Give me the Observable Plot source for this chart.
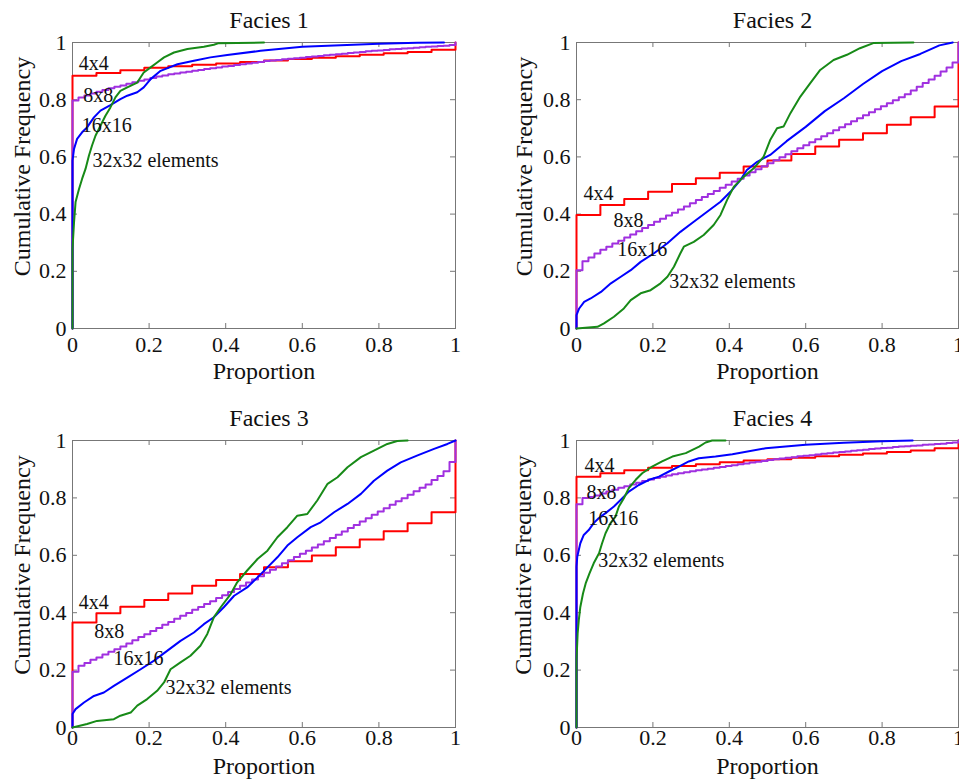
<!DOCTYPE html>
<html><head><meta charset="utf-8">
<script src="https://cdn.jsdelivr.net/npm/d3@7"></script>
<script src="https://cdn.jsdelivr.net/npm/@observablehq/plot@0.6"></script>
<style>
html,body{margin:0;padding:0;background:#fff;overflow:hidden;}
#fig{position:relative;width:959px;height:780px;overflow:hidden;}
.pan{position:absolute;width:480px;height:390px;}
.pan svg{max-width:none !important;overflow:visible;}
.pan svg text{font-family:"Liberation Serif","Times New Roman",serif !important;}
</style></head><body><div id="fig"></div>
<script>
// ---- data ----
const titles = ["Facies 1", "Facies 2", "Facies 3", "Facies 4"];
const sizeLabels = ["4x4", "8x8", "16x16", "32x32 elements"];
const tickVals = [0, 0.2, 0.4, 0.6, 0.8, 1];

// 4x4 elements: CDF at proportion k/16, k = 0..16
const red1 = [0.884,0.893,0.903,0.912,0.917,0.922,0.927,0.932,0.937,0.942,0.947,0.952,0.957,0.962,0.967,0.975,1];
const red2 = [0.397,0.432,0.453,0.478,0.505,0.525,0.545,0.566,0.587,0.610,0.636,0.660,0.683,0.712,0.739,0.776,1];
const red3 = [0.366,0.398,0.421,0.444,0.467,0.494,0.514,0.535,0.558,0.579,0.599,0.628,0.655,0.684,0.712,0.750,1];
const red4 = [0.874,0.886,0.896,0.905,0.911,0.917,0.924,0.930,0.935,0.940,0.945,0.950,0.955,0.960,0.965,0.973,1];

// 8x8 elements: CDF at proportion i/64, i = 0..64
const purple1 = [0.797,0.808,0.815,0.822,0.828,0.834,0.840,0.845,0.850,0.856,
 0.861,0.866,0.871,0.876,0.881,0.885,0.889,0.892,0.895,0.898,
 0.901,0.904,0.907,0.910,0.913,0.916,0.918,0.921,0.924,0.927,
 0.929,0.932,0.935,0.937,0.939,0.941,0.943,0.945,0.947,0.949,
 0.951,0.953,0.955,0.957,0.959,0.961,0.963,0.965,0.967,0.969,
 0.971,0.972,0.974,0.976,0.977,0.979,0.980,0.982,0.983,0.985,
 0.986,0.988,0.989,0.991,1];
const purple2 = [0.204,0.235,0.248,0.262,0.275,0.286,0.297,0.307,0.318,0.329,
 0.340,0.351,0.362,0.373,0.384,0.395,0.405,0.416,0.427,0.438,
 0.449,0.460,0.470,0.481,0.492,0.503,0.514,0.524,0.535,0.546,
 0.557,0.567,0.578,0.588,0.599,0.609,0.620,0.630,0.641,0.651,
 0.662,0.672,0.683,0.693,0.704,0.714,0.725,0.735,0.746,0.756,
 0.767,0.777,0.788,0.798,0.809,0.819,0.832,0.845,0.858,0.871,
 0.884,0.899,0.913,0.930,1];
const purple3 = [0.194,0.215,0.225,0.236,0.244,0.254,0.264,0.273,0.282,0.293,
 0.304,0.315,0.325,0.336,0.347,0.358,0.368,0.379,0.389,0.399,
 0.410,0.420,0.430,0.440,0.451,0.461,0.472,0.483,0.494,0.505,
 0.516,0.527,0.539,0.550,0.561,0.572,0.583,0.594,0.605,0.616,
 0.627,0.638,0.649,0.660,0.672,0.683,0.695,0.706,0.718,0.729,
 0.741,0.753,0.764,0.776,0.788,0.799,0.811,0.823,0.835,0.847,
 0.862,0.876,0.893,0.925,1];
const purple4 = [0.778,0.800,0.803,0.808,0.815,0.822,0.828,0.835,0.841,0.847,
 0.853,0.859,0.864,0.869,0.874,0.878,0.882,0.886,0.889,0.893,
 0.896,0.899,0.902,0.905,0.908,0.911,0.914,0.917,0.920,0.923,
 0.926,0.929,0.932,0.935,0.937,0.940,0.942,0.945,0.947,0.949,
 0.951,0.954,0.956,0.958,0.960,0.962,0.964,0.966,0.968,0.970,
 0.972,0.974,0.975,0.977,0.979,0.980,0.982,0.983,0.985,0.986,
 0.988,0.989,0.991,0.993,1];

// 16x16 elements: [proportion, CDF]
const blue1 = [[0,0.587],[0.004,0.628],[0.012,0.663],[0.025,0.686],[0.038,0.703],[0.056,0.738],[0.073,0.762],[0.099,0.781],[0.125,0.802],[0.143,0.814],[0.169,0.826],[0.186,0.843],[0.204,0.872],[0.23,0.901],[0.274,0.924],[0.317,0.936],[0.36,0.948],[0.404,0.956],[0.491,0.971],[0.6,0.985],[0.7,0.99],[0.8,0.996],[0.9,0.999],[0.97,1]];
const blue2 = [[0,0.047],[0.007,0.07],[0.02,0.093],[0.037,0.105],[0.064,0.128],[0.09,0.158],[0.116,0.181],[0.142,0.204],[0.168,0.233],[0.203,0.263],[0.238,0.298],[0.272,0.338],[0.307,0.373],[0.342,0.408],[0.377,0.443],[0.403,0.478],[0.429,0.519],[0.446,0.554],[0.473,0.583],[0.507,0.607],[0.55,0.655],[0.6,0.705],[0.65,0.76],[0.7,0.805],[0.75,0.855],[0.8,0.9],[0.85,0.935],[0.9,0.96],[0.95,0.99],[0.985,1]];
const blue3 = [[0,0.047],[0.008,0.064],[0.03,0.087],[0.056,0.11],[0.082,0.122],[0.108,0.145],[0.143,0.174],[0.178,0.203],[0.213,0.233],[0.247,0.267],[0.282,0.302],[0.317,0.331],[0.343,0.36],[0.369,0.384],[0.395,0.419],[0.422,0.459],[0.456,0.488],[0.483,0.523],[0.509,0.558],[0.535,0.593],[0.561,0.634],[0.587,0.663],[0.622,0.698],[0.648,0.715],[0.683,0.75],[0.718,0.779],[0.753,0.814],[0.787,0.86],[0.822,0.895],[0.857,0.924],[0.901,0.948],[0.944,0.971],[0.979,0.988],[1,1]];
const blue4 = [[0,0.56],[0.002,0.595],[0.01,0.642],[0.019,0.671],[0.032,0.688],[0.045,0.712],[0.058,0.729],[0.076,0.747],[0.098,0.77],[0.12,0.799],[0.137,0.822],[0.163,0.845],[0.19,0.863],[0.216,0.874],[0.242,0.892],[0.268,0.909],[0.294,0.927],[0.32,0.938],[0.364,0.944],[0.408,0.952],[0.495,0.973],[0.6,0.985],[0.7,0.992],[0.8,0.997],[0.88,1]];

// 32x32 elements: [proportion, CDF]
const green1 = [[0,0.279],[0.004,0.372],[0.008,0.442],[0.017,0.488],[0.025,0.523],[0.034,0.558],[0.043,0.605],[0.051,0.64],[0.06,0.674],[0.073,0.709],[0.086,0.744],[0.099,0.773],[0.112,0.808],[0.125,0.831],[0.143,0.843],[0.169,0.86],[0.186,0.895],[0.204,0.913],[0.221,0.93],[0.239,0.948],[0.265,0.965],[0.3,0.977],[0.343,0.985],[0.369,0.992],[0.38,0.997],[0.5,1]];
const green2 = [[0,0],[0.055,0.006],[0.072,0.018],[0.098,0.041],[0.124,0.07],[0.142,0.099],[0.168,0.123],[0.194,0.134],[0.22,0.158],[0.238,0.181],[0.255,0.216],[0.272,0.263],[0.281,0.286],[0.307,0.303],[0.333,0.327],[0.359,0.362],[0.377,0.397],[0.394,0.449],[0.412,0.496],[0.438,0.531],[0.464,0.56],[0.49,0.601],[0.507,0.659],[0.525,0.7],[0.542,0.706],[0.56,0.753],[0.586,0.811],[0.612,0.858],[0.638,0.904],[0.673,0.939],[0.708,0.957],[0.742,0.98],[0.777,0.998],[0.882,1]];
const green3 = [[0,0],[0.038,0.012],[0.064,0.023],[0.108,0.029],[0.125,0.041],[0.152,0.052],[0.169,0.076],[0.195,0.099],[0.221,0.128],[0.239,0.157],[0.256,0.203],[0.282,0.227],[0.308,0.25],[0.334,0.285],[0.352,0.326],[0.369,0.384],[0.387,0.419],[0.413,0.465],[0.43,0.506],[0.456,0.547],[0.483,0.587],[0.509,0.616],[0.535,0.663],[0.561,0.698],[0.587,0.738],[0.613,0.744],[0.639,0.791],[0.666,0.849],[0.692,0.872],[0.718,0.907],[0.753,0.942],[0.787,0.965],[0.822,0.988],[0.848,0.998],[0.875,1]];
const green4 = [[0,0.235],[0.003,0.328],[0.006,0.374],[0.01,0.42],[0.017,0.467],[0.024,0.502],[0.034,0.537],[0.045,0.572],[0.059,0.607],[0.067,0.642],[0.076,0.677],[0.089,0.712],[0.102,0.735],[0.111,0.77],[0.124,0.799],[0.137,0.834],[0.155,0.863],[0.172,0.886],[0.198,0.909],[0.224,0.927],[0.251,0.944],[0.286,0.956],[0.321,0.979],[0.338,0.993],[0.355,1],[0.39,1]];

// ---- layout (positions of panels and annotation anchors) ----
const layout = [
  {left:0,   top:0,   mt:42, mb:62, ml:72, mr:25, ydx:-50, ydy:-19, pdy:33, tp:8},
  {left:480, top:0,   mt:42, mb:62, ml:96, mr:2,  ydx:-52, ydy:-19, pdy:33, tp:8},
  {left:0,   top:390, mt:50, mb:53, ml:72, mr:25, ydx:-50, ydy:-19, pdy:29, tp:2},
  {left:480, top:390, mt:50, mb:53, ml:96, mr:2,  ydx:-53, ydy:-19, pdy:29, tp:2}
];
const labelPos = [
  [[0.016,0.927],[0.028,0.815],[0.024,0.71],[0.052,0.587]],
  [[0.018,0.472],[0.097,0.378],[0.107,0.276],[0.243,0.164]],
  [[0.016,0.436],[0.057,0.335],[0.107,0.24],[0.243,0.139]],
  [[0.021,0.913],[0.026,0.819],[0.031,0.728],[0.057,0.582]]
];

const reds = [red1, red2, red3, red4];
const purples = [purple1, purple2, purple3, purple4];
const blues = [blue1, blue2, blue3, blue4];
const greens = [green1, green2, green3, green4];

const FONT = "Liberation Serif";
const FRAME = "#777";
const INK = "#111";
const COLORS = {red: "#ff0000", purple: "#a030e0", blue: "#0000ff", green: "#178a17"};

const grid = (vals) => [{x: 0, y: 0}, ...vals.map((v, i, a) => ({x: i / (a.length - 1), y: v}))];
const pairs = (arr) => [{x: 0, y: 0}, ...arr.map(([x, y]) => ({x, y}))];

const fig = document.getElementById("fig");
for (let k = 0; k < 4; k++) {
  const L = layout[k];
  const W = 480, H = 390;
  const ph = H - L.mt - L.mb, pw = W - L.ml - L.mr;
  const labels = sizeLabels.map((t, j) => ({t, x: labelPos[k][j][0], y: labelPos[k][j][1]}));
  const chart = Plot.plot({
    width: W, height: H,
    marginLeft: L.ml, marginRight: L.mr, marginTop: L.mt, marginBottom: L.mb,
    x: {domain: [0, 1], label: null},
    y: {domain: [0, 1], label: null},
    style: {fontFamily: FONT, fontSize: "22px", background: "transparent", color: INK, overflow: "visible"},
    marks: [
      Plot.frame({stroke: FRAME, strokeWidth: 1}),
      Plot.ruleX(tickVals, {x: d => d, insetTop: ph - 5, stroke: FRAME}),
      Plot.ruleX(tickVals, {x: d => d, insetBottom: ph - 5, stroke: FRAME}),
      Plot.ruleY(tickVals, {y: d => d, insetRight: pw - 5, stroke: FRAME}),
      Plot.ruleY(tickVals, {y: d => d, insetLeft: pw - 5, stroke: FRAME}),
      Plot.axisX(tickVals, {tickSize: 0, tickPadding: L.tp, tickFormat: d => String(d), label: null, fontSize: 22, fontFamily: FONT, fill: INK}),
      Plot.axisY(tickVals, {tickSize: 0, tickPadding: 6, tickFormat: d => String(d), label: null, fontSize: 22, fontFamily: FONT, fill: INK}),
      Plot.line(grid(reds[k]), {x: "x", y: "y", curve: "step-after", stroke: COLORS.red, strokeWidth: 2}),
      Plot.line(grid(purples[k]), {x: "x", y: "y", curve: "step-after", stroke: COLORS.purple, strokeWidth: 2}),
      Plot.line(pairs(blues[k]), {x: "x", y: "y", stroke: COLORS.blue, strokeWidth: 2}),
      Plot.line(pairs(greens[k]), {x: "x", y: "y", stroke: COLORS.green, strokeWidth: 2}),
      Plot.text(labels, {x: "x", y: "y", text: "t", textAnchor: "start", lineAnchor: "middle", fontSize: 20, fontFamily: FONT, fill: INK}),
      Plot.text([titles[k]], {text: d => d, frameAnchor: "top", textAnchor: "middle", lineAnchor: "middle", dy: -22, dx: 5, fontSize: 24, fontFamily: FONT, fill: INK}),
      Plot.text(["Proportion"], {text: d => d, frameAnchor: "bottom", textAnchor: "middle", lineAnchor: "top", dy: L.pdy, fontSize: 24, fontFamily: FONT, fill: INK}),
      Plot.text(["Cumulative Frequency"], {text: d => d, frameAnchor: "left", textAnchor: "middle", lineAnchor: "middle", rotate: -90, dx: L.ydx, dy: L.ydy, fontSize: 24, fontFamily: FONT, fill: INK})
    ]
  });
  const div = document.createElement("div");
  div.className = "pan";
  div.style.left = L.left + "px";
  div.style.top = L.top + "px";
  div.appendChild(chart);
  fig.appendChild(div);
}
</script></body></html>
